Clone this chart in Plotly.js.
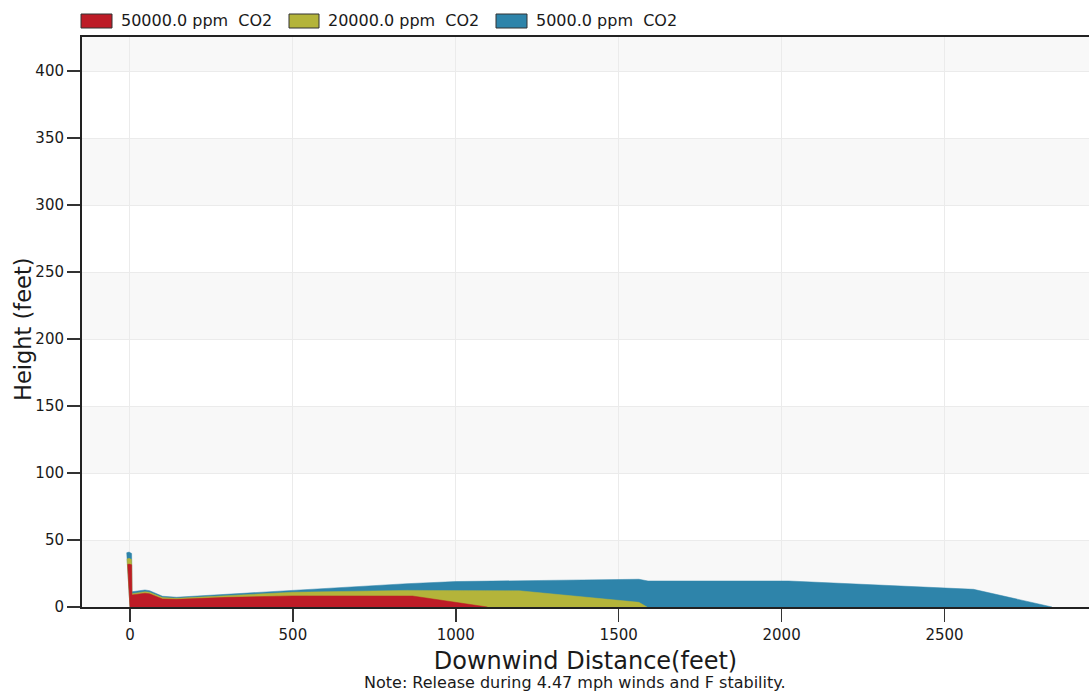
<!DOCTYPE html>
<html>
<head>
<meta charset="utf-8">
<script src="https://cdn.plot.ly/plotly-3.0.1.min.js"></script>
<style>
  html, body { margin: 0; padding: 0; background: #ffffff; }
  #chart { width: 1089px; height: 694px; }
</style>
</head>
<body>
<div id="chart"></div>
<script>
// Plume footprints: downwind distance (ft) vs. cloud height (ft) per CO2 level
const seriesNames = ['50000.0 ppm\u00a0 CO2', '20000.0 ppm\u00a0 CO2', '5000.0 ppm\u00a0 CO2'];

const dist50000   = [0, -7, -3, 5, 6, 46, 60, 100, 143, 300, 500, 700, 867, 1097];
const height50000 = [0, 31.8, 32, 31.5, 9, 10.3, 9.8, 6.0, 5.7, 7.2, 8.3, 8.4, 8.2, 0];

const dist20000   = [0, -9, -3, 5, 6, 46, 60, 100, 143, 300, 500, 850, 1195, 1562, 1587];
const height20000 = [0, 35.8, 36.3, 35.5, 9.9, 11.4, 11.0, 7.0, 6.5, 8.6, 11.0, 12.4, 12.1, 3.5, 0];

const dist5000    = [0, -10, -3, 5, 6, 46, 60, 100, 143, 300, 500, 850, 1000, 1250, 1562, 1590, 2022, 2589, 2830];
const height5000  = [0, 40.5, 41, 40, 11.4, 12.7, 12.2, 8.0, 7.3, 9.6, 12.5, 17.4, 19.0, 20.0, 20.7, 19.4, 19.4, 13.2, 0];

const xTicks = [0, 500, 1000, 1500, 2000, 2500];
const yTicks = [0, 50, 100, 150, 200, 250, 300, 350, 400];

const xTitle = 'Downwind Distance(feet)';
const yTitle = 'Height (feet)';
const noteText = 'Note: Release during 4.47 mph winds and F stability.';

const fillColors = ['#BD1C27', '#B4B43A', '#2E84AA'];
const FONT = 'DejaVu Sans, Verdana, sans-serif';

// figure geometry (pixels)
const W = 1089, H = 694;
const M = { l: 82, r: 0, t: 37, b: 87 };
const plotW = W - M.l - M.r, plotH = H - M.t - M.b;
const px2paperX = px => (px - M.l) / plotW;
const px2paperY = py => (H - M.b - py) / plotH;

function areaTrace(x, y, i) {
  return {
    type: 'scatter', mode: 'lines', x: x, y: y,
    name: seriesNames[i], fill: 'tozeroy',
    fillcolor: fillColors[i],
    line: { color: fillColors[i], width: 0.5 },
    hoverinfo: 'skip', showlegend: false
  };
}

// widest plume first so narrower ones sit on top
const traces = [
  areaTrace(dist5000, height5000, 2),
  areaTrace(dist20000, height20000, 1),
  areaTrace(dist50000, height50000, 0)
];

// alternating light bands behind the grid
const shapes = [];
for (let k = 0; k < yTicks.length; k += 2) {
  shapes.push({
    type: 'rect', layer: 'below', xref: 'paper', yref: 'y',
    x0: 0, x1: 1, y0: yTicks[k], y1: yTicks[k] + 50,
    fillcolor: '#f8f8f8', line: { width: 0 }
  });
}

// legend row across the top
const annotations = [];
const legendBoxes = [[81, 112], [289, 319], [496, 527]];
legendBoxes.forEach((b, i) => {
  shapes.push({
    type: 'rect', xref: 'paper', yref: 'paper', layer: 'above',
    x0: px2paperX(b[0]), x1: px2paperX(b[1]),
    y0: px2paperY(28), y1: px2paperY(14),
    fillcolor: fillColors[i], line: { color: '#333333', width: 1 }
  });
  annotations.push({
    xref: 'paper', yref: 'paper', showarrow: false,
    x: px2paperX(b[1] + 7), y: px2paperY(21),
    xanchor: 'left', yanchor: 'middle',
    text: seriesNames[i],
    font: { family: FONT, size: 16, color: '#1a1a1a' }
  });
});

// vertical axis caption
annotations.push({
  xref: 'paper', yref: 'paper', showarrow: false,
  x: px2paperX(23), y: px2paperY(329),
  xanchor: 'center', yanchor: 'middle', textangle: -90,
  text: yTitle,
  font: { family: FONT, size: 22.5, color: '#1a1a1a' }
});

annotations.push({
  xref: 'paper', yref: 'paper', showarrow: false,
  x: px2paperX(575), y: px2paperY(682),
  xanchor: 'center', yanchor: 'middle',
  text: noteText,
  font: { family: FONT, size: 16, color: '#1a1a1a' }
});

const layout = {
  width: W, height: H,
  margin: M,
  paper_bgcolor: '#ffffff', plot_bgcolor: '#ffffff',
  showlegend: false,
  hovermode: false,
  font: { family: FONT, color: '#1a1a1a' },
  xaxis: {
    range: [-147.3, 2943.5],
    tickvals: xTicks,
    ticks: 'outside', ticklen: 13, tickwidth: 1.5, tickcolor: '#333333',
    tickfont: { family: FONT, size: 15, color: '#1a1a1a' },
    showgrid: true, gridcolor: '#ebebeb', gridwidth: 1,
    zeroline: false,
    showline: true, linecolor: '#222222', linewidth: 2, mirror: true,
    title: { text: xTitle, font: { family: FONT, size: 24, color: '#1a1a1a' }, standoff: 9 }
  },
  yaxis: {
    range: [0, 425.4],
    tickvals: yTicks,
    ticks: 'outside', ticklen: 13, tickwidth: 1.5, tickcolor: '#333333',
    tickfont: { family: FONT, size: 15, color: '#1a1a1a' },
    showgrid: true, gridcolor: '#ebebeb', gridwidth: 1,
    zeroline: false,
    showline: true, linecolor: '#222222', linewidth: 2
  },
  shapes: shapes,
  annotations: annotations
};

Plotly.newPlot('chart', traces, layout, { displayModeBar: false, staticPlot: true });
</script>
</body>
</html>
